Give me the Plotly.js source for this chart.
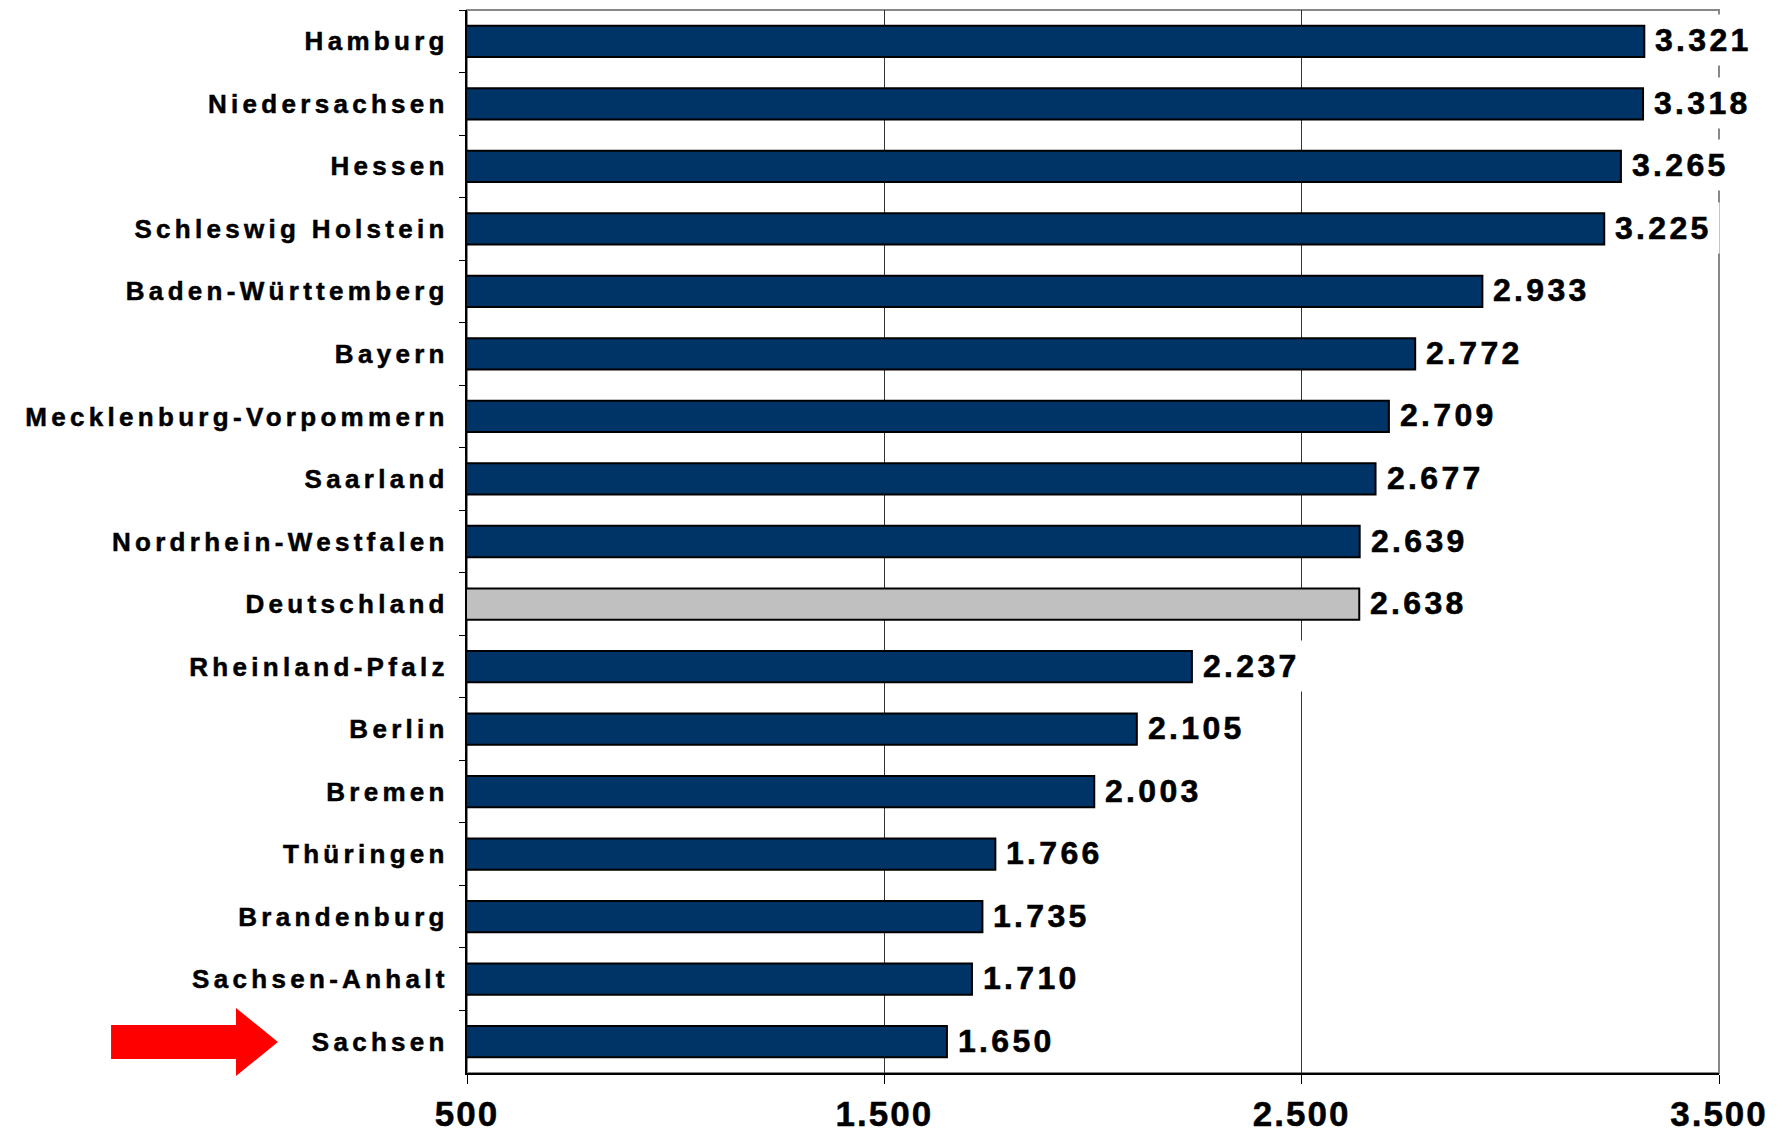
<!DOCTYPE html>
<html>
<head>
<meta charset="utf-8">
<script src="https://cdn.plot.ly/plotly-3.0.1.min.js"></script>
<style>
  html, body { margin: 0; padding: 0; background: #fff; }
  #chart { width: 1782px; height: 1130px; }
  .ytick text { letter-spacing: 4.3px; stroke: #000; stroke-width: 0.5px; }
  .xtick text { letter-spacing: 2px; stroke: #000; stroke-width: 0.5px; }
  .annotation-text { letter-spacing: 3.3px; stroke: #000; stroke-width: 0.6px; }
</style>
</head>
<body>
<div id="chart"></div>
<script>
const categories = [
  "Hamburg", "Niedersachsen", "Hessen", "Schleswig Holstein", "Baden-Württemberg",
  "Bayern", "Mecklenburg-Vorpommern", "Saarland", "Nordrhein-Westfalen", "Deutschland",
  "Rheinland-Pfalz", "Berlin", "Bremen", "Thüringen", "Brandenburg", "Sachsen-Anhalt", "Sachsen"
];
const values = [3321, 3318, 3265, 3225, 2933, 2772, 2709, 2677, 2639, 2638, 2237, 2105, 2003, 1766, 1735, 1710, 1650];
const highlight = "Deutschland";
const xTicks = [500, 1500, 2500, 3500];
const xRange = [500, 3500];

const NAVY = "#003366";
const GREY = "#C0C0C0";
const FONT = "'Liberation Sans', Arial, sans-serif";

const barColors = categories.map(c => c === highlight ? GREY : NAVY);

const trace = {
  type: "bar",
  orientation: "h",
  x: values,
  y: categories,
  marker: { color: barColors, line: { color: "#000000", width: 2 } },
  hoverinfo: "skip"
};

const annotations = categories.map((c, i) => ({
  x: values[i],
  y: c,
  xref: "x",
  yref: "y",
  text: values[i].toLocaleString("de-DE"),
  showarrow: false,
  xanchor: "left",
  yanchor: "middle",
  xshift: 3,
  yshift: 1,
  bgcolor: "#ffffff",
  bordercolor: "rgba(0,0,0,0)",
  borderwidth: 1,
  borderpad: 7,
  font: { family: FONT, size: 32, color: "#000000", weight: "bold" }
}));

const layout = {
  width: 1782,
  height: 1130,
  margin: { l: 467, r: 63, t: 10, b: 57 },
  paper_bgcolor: "#ffffff",
  plot_bgcolor: "#ffffff",
  separators: ",.",
  showlegend: false,
  bargap: 0.5,
  xaxis: {
    range: xRange,
    tickvals: xTicks,
    tickformat: ",d",
    ticks: "outside",
    ticklen: 9,
    tickwidth: 1,
    tickcolor: "#000000",
    showline: true,
    linecolor: "#000000",
    linewidth: 2,
    showgrid: true,
    gridcolor: "#333333",
    gridwidth: 1,
    zeroline: false,
    ticklabelstandoff: 0,
    tickfont: { family: FONT, size: 35, color: "#000000", weight: "bold" },
    fixedrange: true
  },
  yaxis: {
    type: "category",
    autorange: "reversed",
    ticks: "outside",
    tickson: "boundaries",
    ticklen: 6,
    tickwidth: 1,
    tickcolor: "#000000",
    showline: true,
    linecolor: "#000000",
    linewidth: 2,
    showgrid: false,
    zeroline: false,
    ticklabelstandoff: 11,
    tickfont: { family: FONT, size: 26, color: "#000000", weight: "bold" },
    fixedrange: true
  },
  shapes: [
    {
      type: "rect", xref: "paper", yref: "paper", x0: 0, x1: 1, y0: 0, y1: 1,
      line: { color: "#888888", width: 2 }, fillcolor: "rgba(0,0,0,0)", layer: "below"
    },
    {
      type: "path", xref: "paper", yref: "paper",
      path: "M -0.2843,0.0452 L -0.1845,0.0452 L -0.1845,0.0612 L -0.1510,0.0292 L -0.1845,-0.0028 L -0.1845,0.0132 L -0.2843,0.0132 Z",
      fillcolor: "#FF0000", line: { width: 0 }, layer: "above"
    }
  ],
  annotations: annotations
};

Plotly.newPlot("chart", [trace], layout, { displayModeBar: false, staticPlot: true });
</script>
</body>
</html>
